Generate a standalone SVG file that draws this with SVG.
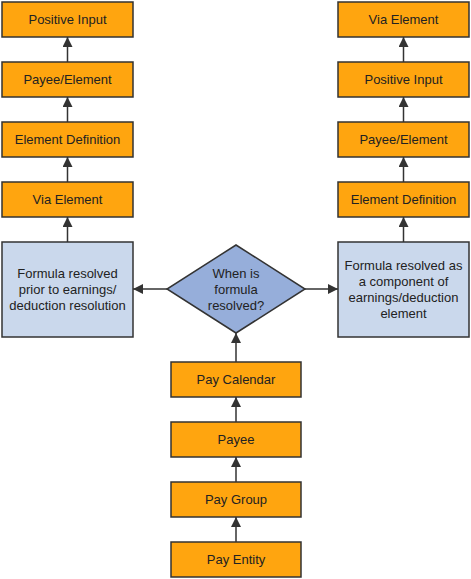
<svg xmlns="http://www.w3.org/2000/svg" width="471" height="579" viewBox="0 0 471 579">
<defs>
<marker id="ah" viewBox="0 0 10 10" refX="10" refY="5" markerWidth="10" markerHeight="10" markerUnits="userSpaceOnUse" orient="auto">
<path d="M0,0 L10,5 L0,10 z" fill="#333"/>
</marker>
<style>
.o{fill:#FFA50F;stroke:#333;stroke-width:1.5}
.b{fill:#CAD8EC;stroke:#333;stroke-width:1.5}
.d{fill:#96AEDA;stroke:#333;stroke-width:1.5}
text{font-family:"Liberation Sans",Arial,sans-serif;font-size:13px;fill:#222;text-anchor:middle}
.c line{stroke:#333;stroke-width:1.5;marker-end:url(#ah)}
</style>
</defs>
<rect width="471" height="579" fill="#fff"/>
<g id="positive-input-l"><rect class="o" x="2" y="2" width="131" height="35"/><text x="67.5" y="24">Positive Input</text></g>
<g id="payee-element-l"><rect class="o" x="2" y="62" width="131" height="35"/><text x="67.5" y="84">Payee/Element</text></g>
<g id="element-definition-l"><rect class="o" x="2" y="122" width="131" height="35"/><text x="67.5" y="144">Element Definition</text></g>
<g id="via-element-l"><rect class="o" x="2" y="182" width="131" height="35"/><text x="67.5" y="204">Via Element</text></g>
<g id="formula-prior"><rect class="b" x="2" y="242" width="131" height="95"/><text x="67.5" y="278">Formula resolved</text><text x="67.5" y="294">prior to earnings/</text><text x="67.5" y="310">deduction resolution</text></g>
<g id="via-element-r"><rect class="o" x="338" y="2" width="131" height="35"/><text x="403.5" y="24">Via Element</text></g>
<g id="positive-input-r"><rect class="o" x="338" y="62" width="131" height="35"/><text x="403.5" y="84">Positive Input</text></g>
<g id="payee-element-r"><rect class="o" x="338" y="122" width="131" height="35"/><text x="403.5" y="144">Payee/Element</text></g>
<g id="element-definition-r"><rect class="o" x="338" y="182" width="131" height="35"/><text x="403.5" y="204">Element Definition</text></g>
<g id="formula-component"><rect class="b" x="338" y="242" width="131" height="95"/><text x="403.5" y="270">Formula resolved as</text><text x="403.5" y="286">a component of</text><text x="403.5" y="302">earnings/deduction</text><text x="403.5" y="318">element</text></g>
<g id="decision"><polygon class="d" points="236,245 305,289 236,333 167,289"/><text x="236" y="278">When is</text><text x="236" y="294">formula</text><text x="236" y="310">resolved?</text></g>
<g id="pay-calendar"><rect class="o" x="171" y="362" width="130" height="35"/><text x="236" y="384">Pay Calendar</text></g>
<g id="payee"><rect class="o" x="171" y="422" width="130" height="35"/><text x="236" y="444">Payee</text></g>
<g id="pay-group"><rect class="o" x="171" y="482" width="130" height="35"/><text x="236" y="504">Pay Group</text></g>
<g id="pay-entity"><rect class="o" x="171" y="542" width="130" height="35"/><text x="236" y="564">Pay Entity</text></g>
<g class="c" id="connectors">
<line x1="236" y1="542" x2="236" y2="517"/>
<line x1="236" y1="482" x2="236" y2="457"/>
<line x1="236" y1="422" x2="236" y2="397"/>
<line x1="236" y1="362" x2="236" y2="333"/>
<line x1="167" y1="289" x2="133" y2="289"/>
<line x1="305" y1="289" x2="338" y2="289"/>
<line x1="67.5" y1="242" x2="67.5" y2="217"/>
<line x1="67.5" y1="182" x2="67.5" y2="157"/>
<line x1="67.5" y1="122" x2="67.5" y2="97"/>
<line x1="67.5" y1="62" x2="67.5" y2="37"/>
<line x1="403.5" y1="242" x2="403.5" y2="217"/>
<line x1="403.5" y1="182" x2="403.5" y2="157"/>
<line x1="403.5" y1="122" x2="403.5" y2="97"/>
<line x1="403.5" y1="62" x2="403.5" y2="37"/>
</g>
</svg>
